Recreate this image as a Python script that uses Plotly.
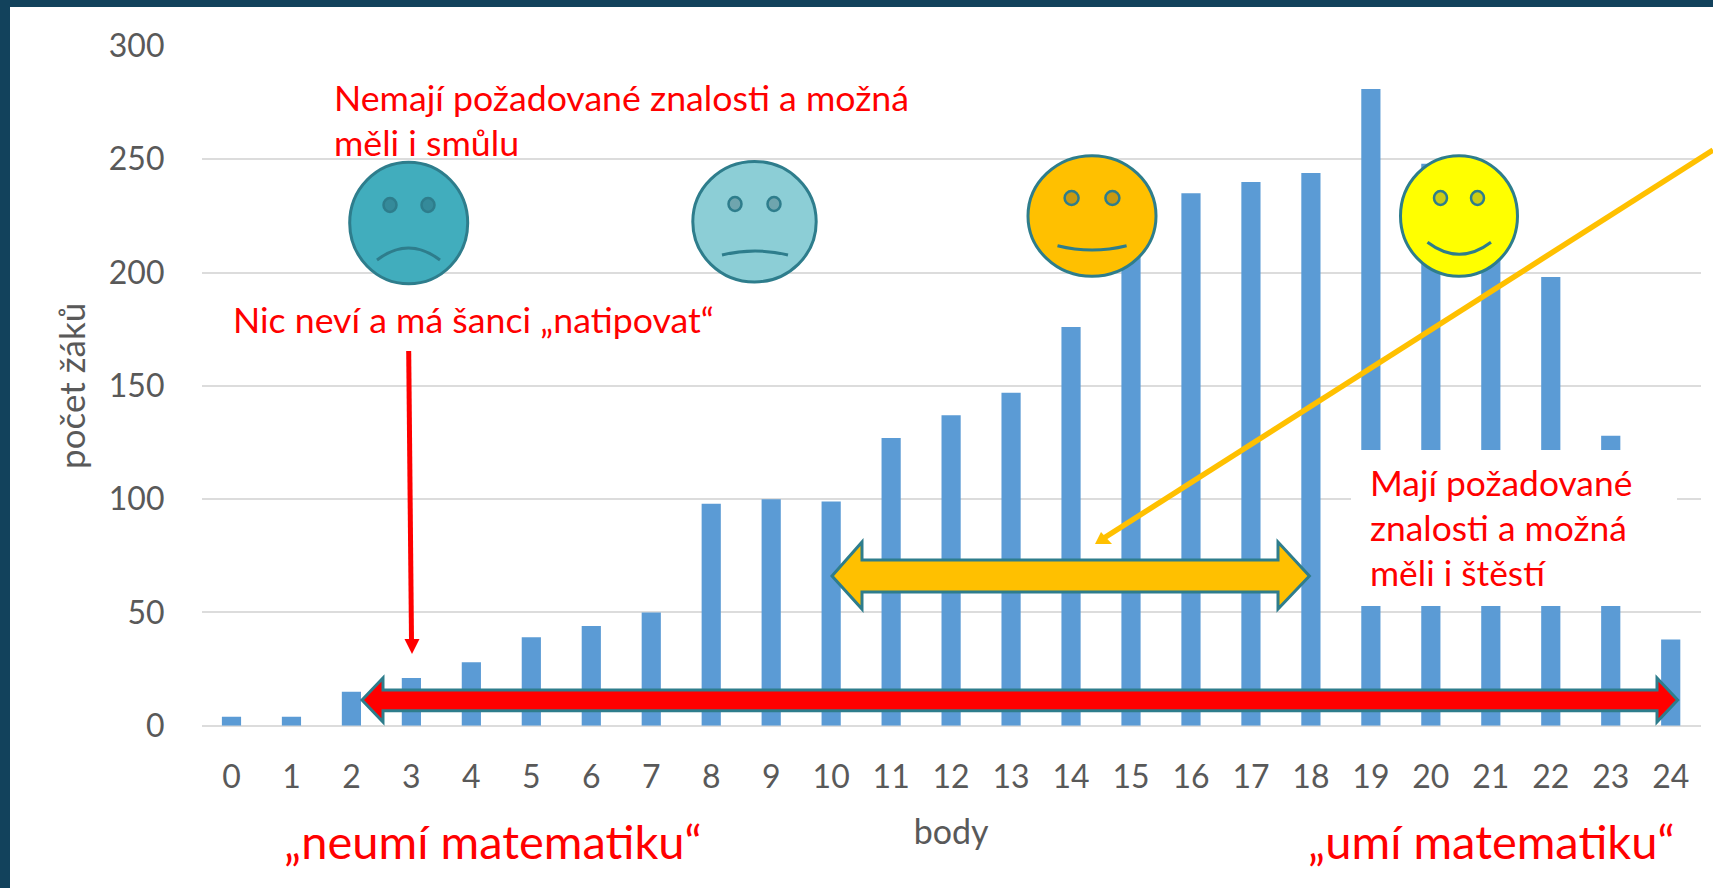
import plotly.graph_objects as go

W, H = 1713, 888
points = list(range(25))
counts = [4, 4, 15, 21, 28, 39, 44, 50, 98, 100, 99, 127, 137, 147, 176, 222,
          235, 240, 244, 281, 248, 228, 198, 128, 38]
y_ticks = [0, 50, 100, 150, 200, 250, 300]
x_title = "body"
y_title = "počet žáků"

RED = "#FF0000"
AMBER = "#FFC000"
EDGE = "#2E7D8C"


def px(x):
    return x / W


def py(y):
    return 1 - y / H


def path(pts, close=True):
    d = "M " + " L ".join(f"{px(x):.5f},{py(y):.5f}" for x, y in pts)
    return d + (" Z" if close else "")


def poly(pts, fill, line=None, lw=0):
    return dict(type="path", xref="paper", yref="paper", path=path(pts), fillcolor=fill,
                line=dict(color=line or fill, width=lw), layer="above")


def ell(cx, cy, rx, ry, fill, line=EDGE, lw=3):
    return dict(type="circle", xref="paper", yref="paper", x0=px(cx - rx), x1=px(cx + rx),
                y0=py(cy + ry), y1=py(cy - ry), fillcolor=fill,
                line=dict(color=line, width=lw), layer="above")


def rect(x0, y0, x1, y1, fill):
    return dict(type="rect", xref="paper", yref="paper", x0=px(x0), x1=px(x1), y0=py(y1), y1=py(y0),
                fillcolor=fill, line=dict(width=0), layer="above")


def mouth(x0, x1, y, ctrl):
    mid = (x0 + x1) / 2
    return dict(type="path", xref="paper", yref="paper",
                path=f"M {px(x0):.5f},{py(y):.5f} Q {px(mid):.5f},{py(ctrl):.5f} {px(x1):.5f},{py(y):.5f}",
                line=dict(color=EDGE, width=3), layer="above")


def face(cx, cy, rx, ry, fill, eye_fill, e1, e2, ey, erx, m0, m1, my, mc):
    return [ell(cx, cy, rx, ry, fill), ell(e1, ey, erx, 7, eye_fill, lw=2.5), ell(e2, ey, erx, 7, eye_fill, lw=2.5),
            mouth(m0, m1, my, mc)]


def double_arrow(tl, tr, bl, br, yc, head_top, head_bot, sh_top, sh_bot, fill):
    return poly([(tl, yc), (bl, head_top), (bl, sh_top), (br, sh_top), (br, head_top), (tr, yc),
                 (br, head_bot), (br, sh_bot), (bl, sh_bot), (bl, head_bot)], fill, EDGE, 3)


shapes = [
    rect(0, 0, W, 7, "#12425C"),
    rect(0, 0, 10, H, "#12425C"),
    rect(1351, 450, 1677, 606, "white"),
]
shapes += face(408.7, 223, 59, 60.7, "#41ADBD", "#358A9A", 390, 428, 205, 6.5, 377, 440, 260, 236)
shapes += face(754.5, 221.7, 61.7, 60.3, "#8CCED6", "#6FA5AE", 735, 774, 204, 6.5, 722, 788, 255, 247)
shapes += face(1092, 216, 64, 60.3, AMBER, "#C99A10", 1071.6, 1112.4, 198, 7, 1057.5, 1126.6, 245.7, 254.3)
shapes += face(1459, 216, 58.5, 60.3, "#FFFF00", "#CCCC14", 1440.5, 1477.5, 198, 6.5, 1427.5, 1491, 242.3, 266.3)
shapes += [
    double_arrow(832, 1309.4, 862, 1278, 576, 542, 609, 560, 592, AMBER),
    double_arrow(362, 1677.7, 383, 1657, 700, 678, 722, 690, 710.7, RED),
    dict(type="line", xref="paper", yref="paper", x0=px(408.7), y0=py(351), x1=px(411.5), y1=py(640),
         line=dict(color=RED, width=5), layer="above"),
    poly([(404.5, 639), (419.5, 639), (412, 654)], RED),
    dict(type="line", xref="paper", yref="paper", x0=px(1713), y0=py(150), x1=px(1104), y1=py(538),
         line=dict(color=AMBER, width=5.5), layer="above"),
    poly([(1095, 544), (1112, 544), (1101, 532)], AMBER),
]


def label(text, x, y, size):
    return dict(text=text, x=px(x), y=py(y), xref="paper", yref="paper", xanchor="left", yanchor="middle",
                showarrow=False, font=dict(family="Lato", size=size, color=RED))


annotations = [
    label("Nemají požadované znalosti a možná", 332, 98, 35.7),
    label("měli i smůlu", 332, 142, 35.7),
    label("Nic neví a má šanci „natipovat“", 231, 319, 35.7),
    label("Mají požadované", 1368, 482, 35.4),
    label("znalosti a možná", 1368, 527, 35.4),
    label("měli i štěstí", 1368, 572, 35.4),
    label("„neumí matematiku“", 282, 841, 47),
    label("„umí matematiku“", 1306, 841, 47),
]

fig = go.Figure(go.Bar(x=points, y=counts, width=0.32, marker=dict(color="#5B9BD5", line=dict(width=0))))
fig.update_layout(
    width=W, height=H, margin=dict(l=0, r=0, t=0, b=0), paper_bgcolor="white", plot_bgcolor="white",
    showlegend=False, shapes=shapes, annotations=annotations,
    font=dict(family="Lato", color="#595959", size=32),
    xaxis=dict(domain=[px(201.5), px(1700.7)], range=[-0.5, 24.5], tickmode="array", tickvals=points,
               showgrid=False, zeroline=False, showline=False, ticks="", ticklabelstandoff=29,
               automargin=False, title=dict(text=x_title, standoff=26, font=dict(size=34))),
    yaxis=dict(domain=[py(725.7), py(46)], range=[0, 300], tickmode="array", tickvals=y_ticks,
               gridcolor="#DCDCDC", gridwidth=2, zeroline=True, zerolinecolor="#DCDCDC", zerolinewidth=2,
               showline=False, ticks="", ticklabelstandoff=36,
               automargin=False, title=dict(text=y_title, standoff=12, font=dict(size=35))),
)
fig.write_html("out.html", config=dict(displayModeBar=False),
               post_script="document.body.style.margin='0';document.body.style.overflow='hidden';")
